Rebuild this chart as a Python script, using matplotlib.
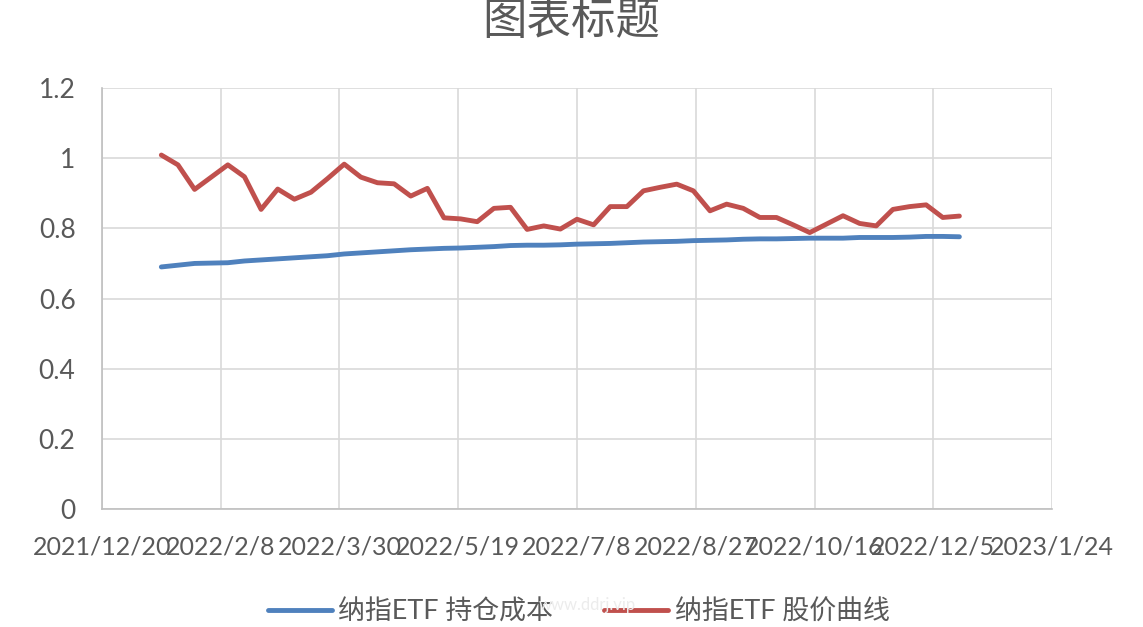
import datetime as dt
import matplotlib
matplotlib.use('Agg')
import matplotlib.pyplot as plt

plt.rcParams['font.family'] = ['Lato', 'Noto Sans CJK SC', 'DejaVu Sans']

title = '图表标题'
series_names = ['纳指ETF 持仓成本', '纳指ETF 股价曲线']
start_date = dt.date(2022, 1, 14)
n_weeks = 49
cost = [0.690, 0.695, 0.700, 0.701, 0.702, 0.707, 0.710, 0.713, 0.716, 0.719,
        0.722, 0.727, 0.730, 0.733, 0.736, 0.739, 0.741, 0.743, 0.744, 0.746,
        0.748, 0.751, 0.752, 0.752, 0.753, 0.755, 0.756, 0.757, 0.759, 0.761,
        0.762, 0.763, 0.765, 0.766, 0.767, 0.769, 0.770, 0.770, 0.771, 0.772,
        0.772, 0.772, 0.774, 0.774, 0.774, 0.775, 0.777, 0.777, 0.776]
price = [1.009, 0.981, 0.911, 0.946, 0.981, 0.947, 0.854, 0.912, 0.883, 0.903,
         0.942, 0.983, 0.946, 0.930, 0.927, 0.892, 0.914, 0.830, 0.827, 0.819,
         0.857, 0.860, 0.797, 0.807, 0.798, 0.826, 0.810, 0.862, 0.862, 0.907,
         0.917, 0.926, 0.907, 0.850, 0.869, 0.857, 0.831, 0.831, 0.810, 0.788,
         0.812, 0.836, 0.814, 0.807, 0.854, 0.862, 0.867, 0.831, 0.835]
x_tick_dates = [dt.date(2021, 12, 20) + dt.timedelta(days=50 * i) for i in range(9)]
y_ticks = [0, 0.2, 0.4, 0.6, 0.8, 1, 1.2]
y_tick_labels = ['0', '0.2', '0.4', '0.6', '0.8', '1', '1.2']

dates = [start_date + dt.timedelta(days=7 * i) for i in range(n_weeks)]

fig = plt.figure(figsize=(11.43, 6.27), dpi=100)
ax = fig.add_axes([0.0892, 0.1882, 0.8312, 0.6714])

ax.plot(dates, cost, color='#4F81BD', lw=3.5, solid_capstyle='round', label=series_names[0], zorder=3)
ax.plot(dates, price, color='#C0504D', lw=3.5, solid_capstyle='round', label=series_names[1], zorder=3)

ax.set_xlim(x_tick_dates[0], x_tick_dates[-1])
ax.set_ylim(0, 1.2)
ax.set_xticks(x_tick_dates)
ax.set_xticklabels([f'{d.year}/{d.month}/{d.day}' for d in x_tick_dates])
ax.set_yticks(y_ticks)
ax.set_yticklabels(y_tick_labels)

ax.grid(True, color='#d9d9d9', lw=1.2)
ax.set_axisbelow(True)
for s in ['top', 'right']:
    ax.spines[s].set_visible(False)
for s in ['left', 'bottom']:
    ax.spines[s].set_color('#bfbfbf')
    ax.spines[s].set_linewidth(1.2)
ax.tick_params(length=0, labelcolor='#595959')
ax.tick_params(axis='x', labelsize=18, pad=19)
ax.tick_params(axis='y', labelsize=19, pad=19)

fig.text(0.5, 0.965, title, ha='center', va='center', fontsize=32, color='#595959')
fig.text(0.514, 0.035, 'www.ddrj.vip', ha='center', va='center', fontsize=12, color='#ececec')

ax.legend(loc='center', bbox_to_anchor=(0.502, -0.245), ncol=2, frameon=False,
          fontsize=19.4, labelcolor='#595959', handlelength=2.35, columnspacing=1.9,
          handletextpad=0.25)

fig.savefig('out.png', dpi=100)
